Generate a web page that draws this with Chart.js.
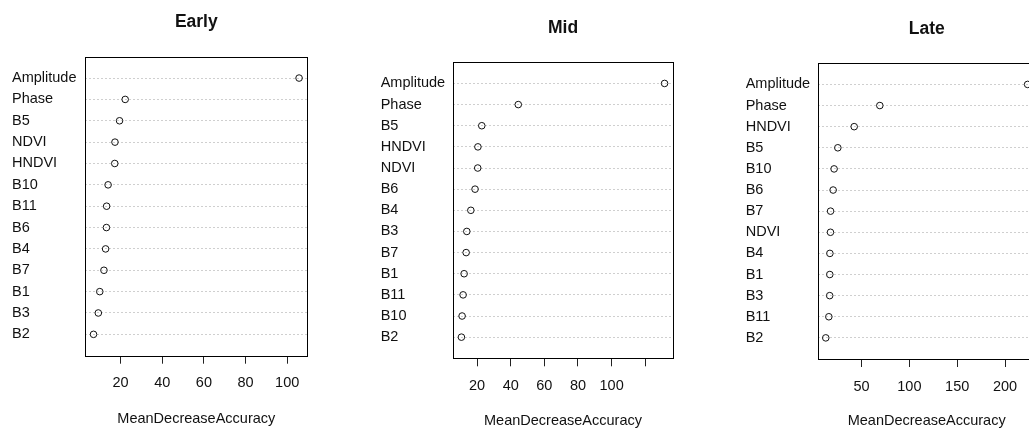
<!DOCTYPE html>
<html>
<head>
<meta charset="utf-8">
<script src="https://cdn.jsdelivr.net/npm/chart.js@4"></script>
<style>
    html, body { margin: 0; padding: 0; width: 1029px; height: 428px; overflow: hidden; background: #fff; }
    canvas { position: absolute; top: 0; }
</style>
</head>
<body>
<canvas id="early" width="345" height="428" style="left:0px"></canvas>
<canvas id="mid" width="345" height="428" style="left:345px"></canvas>
<canvas id="late" width="360" height="428" style="left:690px"></canvas>
<script>
// --- data, top to bottom as in the plot ---
const earlyNames = ['Amplitude', 'Phase', 'B5', 'NDVI', 'HNDVI', 'B10', 'B11', 'B6', 'B4', 'B7', 'B1', 'B3', 'B2'];
const earlyValues = [105.7, 22.2, 19.5, 17.3, 17.2, 14.0, 13.3, 13.2, 12.8, 12.0, 10.0, 9.3, 7.0];

const midNames = ['Amplitude', 'Phase', 'B5', 'HNDVI', 'NDVI', 'B6', 'B4', 'B3', 'B7', 'B1', 'B11', 'B10', 'B2'];
const midValues = [131.5, 44.5, 22.8, 20.5, 20.4, 18.8, 16.3, 13.9, 13.5, 12.3, 11.7, 11.1, 10.7];

const lateNames = ['Amplitude', 'Phase', 'HNDVI', 'B5', 'B10', 'B6', 'B7', 'NDVI', 'B4', 'B1', 'B3', 'B11', 'B2'];
const lateValues = [223.6, 69.1, 42.3, 25.2, 21.3, 20.3, 17.6, 17.5, 16.9, 16.8, 16.7, 15.8, 12.6];

const earlyTicks = [20, 40, 60, 80, 100];
const earlyTickLabels = ['20', '40', '60', '80', '100'];
const midTicks = [20, 40, 60, 80, 100, 120];
const midTickLabels = ['20', '40', '60', '80', '100', ''];
const lateTicks = [50, 100, 150, 200];
const lateTickLabels = ['50', '100', '150', '200'];

const FONT = "'Liberation Sans', Arial, sans-serif";
const TEXT = '#111';

// draws the R-style box round the plot region
const boxPlugin = {
    id: 'box',
    afterDraw(chart) {
        const a = chart.chartArea;
        const ctx = chart.ctx;
        ctx.save();
        ctx.strokeStyle = '#000';
        ctx.lineWidth = 1;
        const l = Math.round(a.left) + 0.5, t = Math.round(a.top) + 0.5;
        const r = Math.round(a.right) + 0.5, b = Math.round(a.bottom) + 0.5;
        ctx.strokeRect(l, t, r - l, b - t);
        ctx.restore();
    }
};

function makeDotChart(id, title, names, values, ticks, tickLabels, lay) {
    const lo = Math.min(...values), hi = Math.max(...values);
    const pad = (hi - lo) * 0.04;
    const points = values.map((v, i) => ({ x: v, y: i + 1 }));

    return new Chart(document.getElementById(id), {
        type: 'scatter',
        data: {
            datasets: [{
                data: points,
                pointStyle: 'circle',
                pointRadius: 3.3,
                pointBorderWidth: 1,
                pointBorderColor: '#111',
                pointBackgroundColor: 'rgba(0,0,0,0)'
            }]
        },
        plugins: [boxPlugin],
        options: {
            responsive: false,
            animation: false,
            layout: { padding: { left: lay.padLeft, right: lay.padRight, top: 0, bottom: 0 } },
            plugins: {
                legend: { display: false },
                tooltip: { enabled: false },
                title: {
                    display: true,
                    text: title,
                    fullSize: false,
                    color: TEXT,
                    font: { family: FONT, size: 17.5, weight: 'bold' },
                    padding: { top: lay.titleTop, bottom: lay.titleBottom }
                }
            },
            scales: {
                x: {
                    type: 'linear',
                    min: lo - pad,
                    max: hi + pad,
                    afterBuildTicks: s => { s.ticks = ticks.map(v => ({ value: v })); },
                    afterFit: s => { s.height = lay.xHeight; },
                    ticks: {
                        autoSkip: false,
                        maxRotation: 0,
                        padding: 11,
                        color: TEXT,
                        font: { family: FONT, size: 14.5 },
                        callback: v => tickLabels[ticks.indexOf(v)]
                    },
                    grid: { drawOnChartArea: false, drawTicks: true, tickLength: 8, color: '#222' },
                    border: { display: false },
                    title: {
                        display: true,
                        text: 'MeanDecreaseAccuracy',
                        color: TEXT,
                        font: { family: FONT, size: 14.5 },
                        padding: { top: 0, bottom: lay.xTitleBottom }
                    }
                },
                y: {
                    type: 'linear',
                    min: 0,
                    max: names.length + 1,
                    reverse: true,
                    afterBuildTicks: s => { s.ticks = names.map((n, i) => ({ value: i + 1 })); },
                    afterFit: s => { s.width = lay.yWidth; },
                    ticks: {
                        autoSkip: false,
                        crossAlign: 'far',
                        color: TEXT,
                        font: { family: FONT, size: 14.5 },
                        callback: v => names[v - 1]
                    },
                    grid: { drawTicks: false, tickLength: 0, color: '#cfcfcf', lineWidth: 1 },
                    border: { display: false, dash: [2, 2] }
                }
            }
        }
    });
}

makeDotChart('early', 'Early', earlyNames, earlyValues, earlyTicks, earlyTickLabels,
    { padLeft: 12, padRight: 37.7, yWidth: 73.3, titleTop: 11.5, titleBottom: 24.2, xHeight: 72.3, xTitleBottom: 0 });
makeDotChart('mid', 'Mid', midNames, midValues, midTicks, midTickLabels,
    { padLeft: 35.7, padRight: 17.3, yWidth: 72.6, titleTop: 17.5, titleBottom: 23.8, xHeight: 69.7, xTitleBottom: -2 });
makeDotChart('late', 'Late', lateNames, lateValues, lateTicks, lateTickLabels,
    { padLeft: 55.7, padRight: 14.3, yWidth: 72, titleTop: 19, titleBottom: 23.3, xHeight: 69, xTitleBottom: -2 });
</script>
</body>
</html>
